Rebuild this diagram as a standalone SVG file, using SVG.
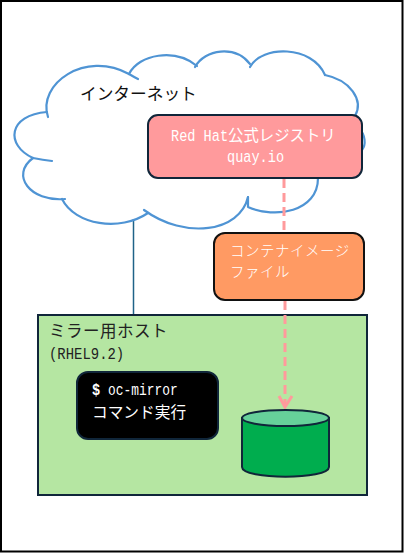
<svg xmlns="http://www.w3.org/2000/svg" width="404" height="553" viewBox="0 0 404 553">
<style>
.j{font-family:"Noto Sans CJK JP","Noto Sans",sans-serif}
.m{font-family:"Liberation Mono","DejaVu Sans Mono","Noto Sans CJK JP",monospace;font-size:17px}
.o{stroke:#10263a;stroke-width:2}
.w{fill:#fff}
</style>
<rect x="0" y="0" width="404" height="553" fill="#fff"/>
<rect x="1" y="1" width="401.500" height="550.500" fill="none" stroke="#000" stroke-width="2"/>
<g id="connectors">
<path d="M133.500 219V315" fill="none" stroke="#1f6388" stroke-width="1.500"/>
</g>
<g id="cloud">
<path d="M48 112C40 80 72 60 129 73C140 55 175 50 197 66C205 52 235 48 250 63C262 48 312 48 325 75C350 82 362 100 355 115C368 130 368 145 362 150L318 178C318 215 275 220 248 207C240 230 190 240 148 210C120 232 75 225 62 199C25 205 15 180 33 158C5 150 5 115 48 112Z" fill="#fff" stroke="none"/>
<g fill="none" stroke="#4f94d4" stroke-width="2.200" stroke-linecap="round">
<path d="M48 117C37 84 85 50 129 74"/>
<path d="M129 74C139 54 175 48 197 66M129 74Q134 77 138 79"/>
<path d="M195 67C205 49 235 45 250 64"/>
<path d="M250 67C262 45 312 45 325 75"/>
<path d="M325 75C350 80 364 100 355 116"/>
<path d="M358 127C366 135 366 145 362 150"/>
<path d="M318 178C318 212 275 219 248 207M248 207Q248 202 248 197"/>
<path d="M248 197C240 232 185 240 144 210"/>
<path d="M148 213C120 232 75 225 62 199"/>
<path d="M65 199C30 202 10 175 33 158"/>
<path d="M33 158Q43 160 52 161"/>
<path d="M33 158C5 145 8 115 47 112"/>
</g>
</g>
<text class="j" x="80" y="100" font-size="16.700" fill="#111">インターネット</text>
<g id="registry">
<rect x="148" y="115" width="214" height="63" rx="10" fill="#ff9a9c" class="o"/>
<text class="m w" transform="translate(171 141) scale(.8 1)">Red Hat</text>
<text class="j w" x="228" y="141" font-size="15.400">公式レジストリ</text>
<text class="m w" transform="translate(227 162) scale(.8 1)">quay.io</text>
</g>
<g id="connectors2">
<path d="M284 179V233" fill="none" stroke="#ff9a9c" stroke-width="3" stroke-dasharray="9 5"/>
</g>
<g id="host">
<rect x="38" y="315" width="329" height="180" fill="#b5e6a2" class="o"/>
<text class="j" x="49" y="337" font-size="16.500" letter-spacing=".5" fill="#222">ミラー用ホスト</text>
<text class="m" transform="translate(49 359) scale(.82 1)" fill="#222">(RHEL9.2)</text>
</g>
<g id="connectors3">
<path d="M285 301V406" fill="none" stroke="#ff9a9c" stroke-width="3" stroke-dasharray="9 5"/>
<path d="M279 396L285 407L292 396" fill="none" stroke="#ff9a9c" stroke-width="3"/>
</g>
<g id="file">
<rect x="214" y="233" width="150" height="67" rx="11" fill="#ff9a63" stroke="#111" stroke-width="2"/>
<text class="j w" x="230" y="256" font-size="14.500" letter-spacing=".5" font-weight="300">コンテナイメージ</text>
<text class="j w" x="230" y="277" font-size="14.500" letter-spacing=".5" font-weight="300">ファイル</text>
</g>
<g id="command">
<rect x="77" y="372" width="141" height="67" rx="11" fill="#000" stroke="#10263a" stroke-width="2"/>
<text class="m w" font-weight="bold" transform="translate(92 395) scale(.8 1)">$</text>
<text class="m w" transform="translate(108 395) scale(.76 1)">oc-mirror</text>
<text class="j w" x="92" y="418" font-size="15.700">コマンド実行</text>
</g>
<g id="storage">
<path d="M242 418V467C242 480 329 480 329 467V418Z" fill="#00ad4e" class="o"/>
<ellipse cx="285.500" cy="418" rx="43.500" ry="8" fill="#66d19a" class="o"/>
</g>
</svg>
